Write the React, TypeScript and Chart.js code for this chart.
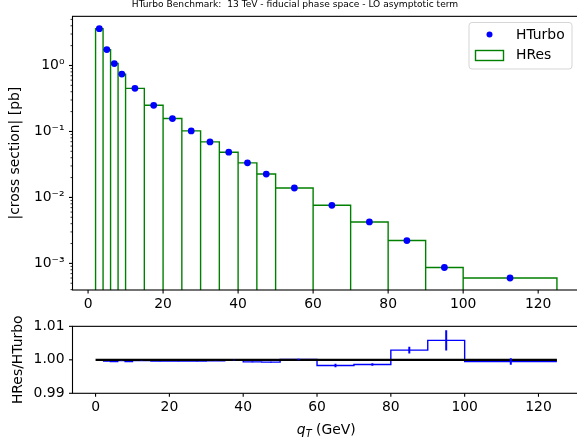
import React, { useEffect, useRef } from 'react';
import { Chart, registerables } from 'chart.js';
Chart.register(...registerables);

// ---------- data ----------
const binEdges = [2, 4, 6, 8, 10, 15, 20, 25, 30, 35, 40, 45, 50, 60, 70, 80, 90, 100, 125];
const binCenters = [3, 5, 7, 9, 12.5, 17.5, 22.5, 27.5, 32.5, 37.5, 42.5, 47.5, 55, 65, 75, 85, 95, 112.5];
const hturbo = [3.62, 1.74, 1.07, 0.74, 0.45, 0.249, 0.157, 0.102, 0.0694, 0.0485, 0.0334, 0.0226, 0.0139, 0.0076, 0.00425, 0.00222, 0.000867, 0.0006];
const hres = [3.62, 1.74, 1.07, 0.74, 0.45, 0.249, 0.157, 0.102, 0.0694, 0.0485, 0.0334, 0.0226, 0.0139, 0.0076, 0.00425, 0.00222, 0.000867, 0.0006];
const ratio = [0.9996, 0.9995, 0.9998, 0.9995, 0.9998, 0.9996, 0.9996, 0.9996, 0.9997, 0.9999, 0.9994, 0.9993, 1.0001, 0.9983, 0.9986, 1.0029, 1.0058, 0.9995];
const ratioErr = [0.00005, 0.00005, 0.00005, 0.00005, 0.00005, 0.00005, 0.00005, 0.00005, 0.00005, 0.0001, 0.0001, 0.0001, 0.0002, 0.0005, 0.0004, 0.001, 0.003, 0.001];
const refLineX = [0, 125];
const refLineY = 1.0;
const xTicks = [0, 20, 40, 60, 80, 100, 120];
const yTopTicks = [0.001, 0.01, 0.1, 1];
const yTopTickLabels = ['10\u207B\u00B3', '10\u207B\u00B2', '10\u207B\u00B9', '10\u2070'];
const yBotTicks = [0.99, 1.0, 1.01];
const titleText = 'HTurbo Benchmark:  13 TeV - fiducial phase space - LO asymptotic term';
const topYLabel = '|cross section| [pb]';
const botYLabel = 'HRes/HTurbo';
const seriesNames = ['HTurbo', 'HRes'];

const FONT = 'DejaVu Sans';
const FS = 13.9;
const CW = 610;
const TOP_H = 318;
const BOT_TOP = 310;
const BOT_H = 135;
const AREA_LEFT = 72.5;
const AREA_RIGHT = 580;

function drawFrame(chart: any, minorLog: boolean) {
  const { ctx, chartArea, scales } = chart;
  const { left, right, top, bottom } = chartArea;
  ctx.save();
  ctx.strokeStyle = '#000';
  ctx.lineWidth = 1.1;
  ctx.strokeRect(left, top, right - left, bottom - top);
  scales.x.ticks.forEach((t: any) => {
    const px = scales.x.getPixelForValue(t.value);
    ctx.beginPath();
    ctx.moveTo(px, bottom);
    ctx.lineTo(px, bottom + 3.5);
    ctx.stroke();
  });
  scales.y.ticks.forEach((t: any) => {
    const py = scales.y.getPixelForValue(t.value);
    ctx.beginPath();
    ctx.moveTo(left, py);
    ctx.lineTo(left - 3.5, py);
    ctx.stroke();
  });
  if (minorLog) {
    ctx.lineWidth = 0.8;
    const ymin = scales.y.min;
    const ymax = scales.y.max;
    for (let d = -5; d <= 1; d++) {
      for (let m = 2; m <= 9; m++) {
        const v = m * Math.pow(10, d);
        if (v < ymin || v > ymax) continue;
        const py = scales.y.getPixelForValue(v);
        ctx.beginPath();
        ctx.moveTo(left, py);
        ctx.lineTo(left - 2, py);
        ctx.stroke();
      }
    }
  }
  ctx.restore();
}

const topPlugin = {
  id: 'topDecor',
  afterDatasetsDraw(chart: any) {
    drawFrame(chart, true);
  },
  afterDraw(chart: any) {
    const { ctx, chartArea } = chart;
    ctx.save();
    ctx.fillStyle = '#000';
    ctx.font = `9.1px "${FONT}"`;
    ctx.textAlign = 'center';
    ctx.textBaseline = 'middle';
    ctx.fillText(titleText, 295, 4.5);
    ctx.font = `${FS}px "${FONT}"`;
    ctx.save();
    ctx.translate(15, (chartArea.top + chartArea.bottom) / 2);
    ctx.rotate(-Math.PI / 2);
    ctx.fillText(topYLabel, 0, 0);
    ctx.restore();
    // legend
    const bx = 469, by = 22.5, bw = 103, bh = 46.5, r = 3;
    ctx.beginPath();
    ctx.moveTo(bx + r, by);
    ctx.lineTo(bx + bw - r, by);
    ctx.quadraticCurveTo(bx + bw, by, bx + bw, by + r);
    ctx.lineTo(bx + bw, by + bh - r);
    ctx.quadraticCurveTo(bx + bw, by + bh, bx + bw - r, by + bh);
    ctx.lineTo(bx + r, by + bh);
    ctx.quadraticCurveTo(bx, by + bh, bx, by + bh - r);
    ctx.lineTo(bx, by + r);
    ctx.quadraticCurveTo(bx, by, bx + r, by);
    ctx.closePath();
    ctx.fillStyle = 'rgba(255,255,255,0.8)';
    ctx.fill();
    ctx.strokeStyle = '#d5d5d5';
    ctx.lineWidth = 1;
    ctx.stroke();
    const ds = chart.data.datasets;
    ctx.fillStyle = '#0000ff';
    ctx.beginPath();
    ctx.arc(489.5, 34.5, 3, 0, Math.PI * 2);
    ctx.fill();
    ctx.strokeStyle = 'green';
    ctx.lineWidth = 1.4;
    ctx.strokeRect(475.5, 50.5, 28, 10);
    ctx.fillStyle = '#000';
    ctx.textAlign = 'left';
    ctx.textBaseline = 'middle';
    ctx.fillText(ds[0].label, 516, 35);
    ctx.fillText(ds[1].label, 516, 55.5);
    ctx.restore();
  },
};

const botPlugin = {
  id: 'botDecor',
  afterDatasetsDraw(chart: any) {
    drawFrame(chart, false);
  },
  afterDraw(chart: any) {
    const { ctx, chartArea } = chart;
    ctx.save();
    ctx.fillStyle = '#000';
    ctx.font = `${FS}px "${FONT}"`;
    ctx.textAlign = 'center';
    ctx.textBaseline = 'middle';
    ctx.save();
    ctx.translate(18, (chartArea.top + chartArea.bottom) / 2);
    ctx.rotate(-Math.PI / 2);
    ctx.fillText(botYLabel, 0, 0);
    ctx.restore();
    const italic = `italic ${FS}px "${FONT}"`;
    const sub = `italic ${FS * 0.7}px "${FONT}"`;
    const normal = `${FS}px "${FONT}"`;
    ctx.font = italic;
    const wq = ctx.measureText('q').width;
    ctx.font = sub;
    const wT = ctx.measureText('T').width;
    ctx.font = normal;
    const wR = ctx.measureText(' (GeV)').width;
    const total = wq + wT + wR;
    const cx = (chartArea.left + chartArea.right) / 2;
    let x0 = cx - total / 2;
    const by = 124;
    ctx.textAlign = 'left';
    ctx.textBaseline = 'alphabetic';
    ctx.font = italic;
    ctx.fillText('q', x0, by);
    x0 += wq;
    ctx.font = sub;
    ctx.fillText('T', x0, by + 2.5);
    x0 += wT;
    ctx.font = normal;
    ctx.fillText(' (GeV)', x0, by);
    ctx.restore();
  },
};

const tickFont = { family: FONT, size: FS };

export default function App() {
  const topRef = useRef<HTMLCanvasElement>(null);
  const botRef = useRef<HTMLCanvasElement>(null);

  useEffect(() => {
    document.body.style.margin = '0';
    document.body.style.overflow = 'hidden';
    const floor = 1e-7;
    const hresPath: any[] = [];
    hres.forEach((v, i) => {
      hresPath.push({ x: binEdges[i], y: floor });
      hresPath.push({ x: binEdges[i], y: v });
      hresPath.push({ x: binEdges[i + 1], y: v });
      hresPath.push({ x: binEdges[i + 1], y: floor });
    });
    const top = new Chart(topRef.current!, {
      type: 'scatter',
      data: {
        datasets: [
          {
            label: seriesNames[0],
            data: binCenters.map((x, i) => ({ x, y: hturbo[i] })),
            backgroundColor: '#0000ff',
            borderColor: '#0000ff',
            pointRadius: 3.4,
            pointBorderWidth: 0,
            showLine: false,
          },
          {
            label: seriesNames[1],
            data: hresPath,
            borderColor: 'green',
            backgroundColor: 'green',
            borderWidth: 1.4,
            pointRadius: 0,
            showLine: true,
            fill: false,
          },
        ],
      },
      options: {
        responsive: false,
        animation: false,
        layout: { padding: { left: 0, right: CW - AREA_RIGHT, top: 15.7, bottom: 0 } },
        plugins: { legend: { display: false }, tooltip: { enabled: false }, title: { display: false } },
        scales: {
          x: {
            type: 'linear',
            min: -4.15,
            max: 131.15,
            afterBuildTicks: (s: any) => { s.ticks = xTicks.map((v) => ({ value: v })); },
            afterFit: (s: any) => { s.height = TOP_H - 290; },
            grid: { display: false, drawTicks: false },
            border: { display: false },
            ticks: { font: tickFont, color: '#000', padding: 6, autoSkip: false, maxRotation: 0 },
          },
          y: {
            type: 'logarithmic',
            min: 3.95e-4,
            max: 5.56,
            afterBuildTicks: (s: any) => { s.ticks = yTopTicks.map((v) => ({ value: v })); },
            afterFit: (s: any) => { s.width = AREA_LEFT; },
            grid: { display: false, drawTicks: false },
            border: { display: false },
            ticks: {
              font: tickFont,
              color: '#000',
              padding: 8,
              autoSkip: false,
              callback: (v: any) => {
                const i = yTopTicks.findIndex((t) => Math.abs(t - v) / t < 1e-6);
                return i >= 0 ? yTopTickLabels[i] : '';
              },
            },
          },
        },
      },
      plugins: [topPlugin],
    } as any);

    const errData: any[] = [];
    binCenters.forEach((c, i) => {
      errData.push({ x: c, y: ratio[i] - ratioErr[i] });
      errData.push({ x: c, y: ratio[i] + ratioErr[i] });
      errData.push({ x: c, y: null });
    });
    const stepData = binEdges.map((e, i) => ({ x: e, y: ratio[Math.min(i, ratio.length - 1)] }));
    const bot = new Chart(botRef.current!, {
      type: 'scatter',
      data: {
        datasets: [
          {
            label: 'err',
            data: errData,
            borderColor: '#0000ff',
            borderWidth: 2,
            pointRadius: 0,
            showLine: true,
            spanGaps: false,
          },
          {
            label: 'ref',
            data: refLineX.map((x) => ({ x, y: refLineY })),
            borderColor: '#000',
            borderWidth: 2.2,
            pointRadius: 0,
            showLine: true,
          },
          {
            label: 'ratio',
            data: stepData,
            borderColor: '#0000ff',
            borderWidth: 1.4,
            pointRadius: 0,
            showLine: true,
            stepped: 'before',
          },
        ],
      },
      options: {
        responsive: false,
        animation: false,
        layout: { padding: { left: 0, right: CW - AREA_RIGHT, top: 325 - BOT_TOP, bottom: 0 } },
        plugins: { legend: { display: false }, tooltip: { enabled: false }, title: { display: false } },
        scales: {
          x: {
            type: 'linear',
            min: -6.25,
            max: 131.25,
            afterBuildTicks: (s: any) => { s.ticks = xTicks.map((v) => ({ value: v })); },
            afterFit: (s: any) => { s.height = BOT_H - (393.3 - BOT_TOP); },
            grid: { display: false, drawTicks: false },
            border: { display: false },
            ticks: { font: tickFont, color: '#000', padding: 6, autoSkip: false, maxRotation: 0 },
          },
          y: {
            type: 'linear',
            min: 0.99,
            max: 1.01,
            afterBuildTicks: (s: any) => { s.ticks = yBotTicks.map((v) => ({ value: v })); },
            afterFit: (s: any) => { s.width = AREA_LEFT; },
            grid: { display: false, drawTicks: false },
            border: { display: false },
            ticks: {
              font: tickFont,
              color: '#000',
              padding: 8,
              autoSkip: false,
              callback: (v: any) => Number(v).toFixed(2),
            },
          },
        },
      },
      plugins: [botPlugin],
    } as any);

    return () => {
      top.destroy();
      bot.destroy();
    };
  }, []);

  return (
    <div style={{ position: 'absolute', left: 0, top: 0, width: 577, height: 445, overflow: 'hidden', background: '#fff' }}>
      <canvas ref={topRef} width={CW} height={TOP_H} style={{ position: 'absolute', left: 0, top: 0, width: CW, height: TOP_H }} />
      <canvas ref={botRef} width={CW} height={BOT_H} style={{ position: 'absolute', left: 0, top: BOT_TOP, width: CW, height: BOT_H }} />
    </div>
  );
}
